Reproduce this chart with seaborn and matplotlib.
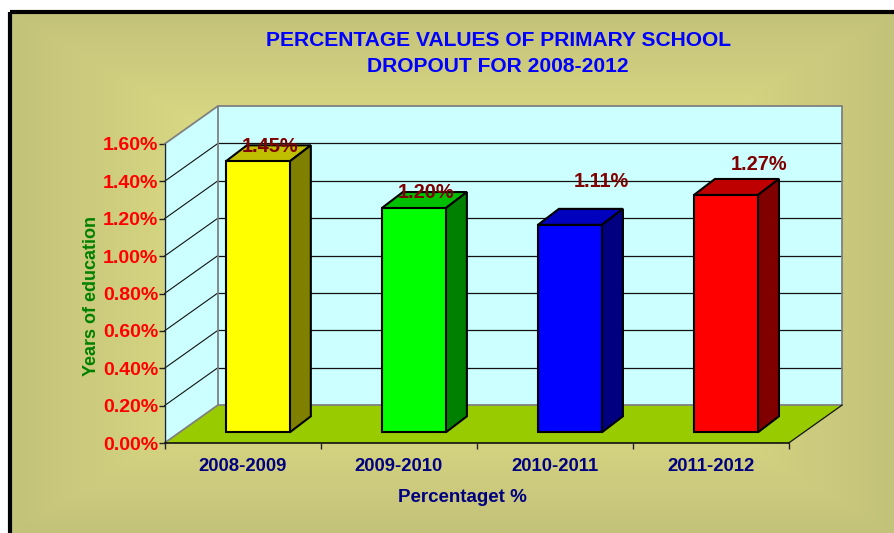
import numpy as np
import pandas as pd
import matplotlib
matplotlib.use("Agg")
import matplotlib.pyplot as plt
from matplotlib.patches import Polygon, Rectangle
from matplotlib.ticker import FuncFormatter
import seaborn as sns

# ---- data ----
years = ["2008-2009", "2009-2010", "2010-2011", "2011-2012"]
dropout = [1.45, 1.20, 1.11, 1.27]
value_labels = ["1.45%", "1.20%", "1.11%", "1.27%"]
y_ticks = [0.0, 0.2, 0.4, 0.6, 0.8, 1.0, 1.2, 1.4, 1.6]

# ---- styles ----
front_colors = ["#FFFF00", "#00FF00", "#0000FF", "#FF0000"]
top_colors = ["#BFBF00", "#00BF00", "#0000BF", "#BF0000"]
side_colors = ["#808000", "#008000", "#000080", "#800000"]
label_shift_px = [(12, 15), (12, 16), (31, 43), (33, 30)]

sns.set_style("white")
plt.rcParams["font.family"] = ["Liberation Sans", "DejaVu Sans"]

W, H = 894, 533
fig = plt.figure(figsize=(W / 100, H / 100), dpi=100, facecolor="white")

# background panel with rectangular gradient and black border
bg = fig.add_axes([0, 0, 1, 1], zorder=0)
bg.axis("off")
gx, gy = np.meshgrid(np.linspace(-1, 1, 300), np.linspace(-1, 1, 200))
t = np.clip((np.maximum(np.abs(gx), np.abs(gy)) - 0.55) / 0.45, 0, 1)
bright = np.array([218, 217, 131]) / 255
dark = np.array([195, 194, 122]) / 255
img = bright[None, None, :] * (1 - t[..., None]) + dark[None, None, :] * t[..., None]
bg.imshow(img, extent=[9, W, H, 12], aspect="auto", interpolation="bilinear", zorder=0)
bg.set_xlim(0, W)
bg.set_ylim(H, 0)
bg.add_patch(Rectangle((9.5, 11.5), W + 20, H + 20, fill=False, ec="black", lw=3, zorder=1))

# main plot: axes are the front plane of the 3-D box
px_left, px_right, px_zero, px_top = 164.5, 788.7, 443, 144
ax = fig.add_axes([px_left / W, 1 - px_zero / H, (px_right - px_left) / W, (px_zero - px_top) / H], zorder=1)
ax.patch.set_alpha(0)

df = pd.DataFrame({"year": years, "value": dropout})
sns.barplot(data=df, x="year", y="value", hue="year", palette=front_colors, legend=False, saturation=1,
            width=64 / 156, edgecolor="black", linewidth=1.5, ax=ax, zorder=4)
xmin, xmax, ymin, ymax = -0.5, 3.5, 0, 1.6
ax.set_xlim(xmin, xmax)
ax.set_ylim(ymin, ymax)

unit_x = (px_right - px_left) / 4
unit_y = (px_zero - px_top) / 1.6
DX, DY = 53.5 / unit_x, 38.0 / unit_y        # depth of the chart box
OFFX, OFFY = 15.3 / unit_x, 10.7 / unit_y    # bars stand inside the floor
BX, BY = 21.0 / unit_x, 16.0 / unit_y        # bar depth

# walls and floor
wall = "#CCFFFF"
grey = "#808080"
ax.add_patch(Polygon([(xmin + DX, ymin + DY), (xmax + DX, ymin + DY), (xmax + DX, ymax + DY), (xmin + DX, ymax + DY)],
                     fc=wall, ec="none", clip_on=False, zorder=0.5))
ax.add_patch(Polygon([(xmin, ymin), (xmin + DX, ymin + DY), (xmin + DX, ymax + DY), (xmin, ymax)],
                     fc=wall, ec="none", clip_on=False, zorder=0.5))
ax.add_patch(Polygon([(xmin, ymin), (xmax, ymin), (xmax + DX, ymin + DY), (xmin + DX, ymin + DY)],
                     fc="#99CC00", ec="none", clip_on=False, zorder=0.6))
for v in y_ticks[1:-1]:
    ax.plot([xmin + DX, xmax + DX], [v + DY, v + DY], color="#111111", lw=0.9, clip_on=False, zorder=1)
    ax.plot([xmin, xmin + DX], [v, v + DY], color="#111111", lw=0.8, clip_on=False, zorder=1)
frame_lw = 1.3
ax.plot([xmin + DX, xmax + DX], [ymax + DY, ymax + DY], color=grey, lw=frame_lw, clip_on=False, zorder=1.5)
ax.plot([xmin + DX, xmin + DX], [ymin + DY, ymax + DY], color=grey, lw=frame_lw, clip_on=False, zorder=1.5)
ax.plot([xmax + DX, xmax + DX], [ymin + DY, ymax + DY], color=grey, lw=frame_lw, clip_on=False, zorder=1.5)
ax.plot([xmin + DX, xmax + DX], [ymin + DY, ymin + DY], color=grey, lw=frame_lw, clip_on=False, zorder=1.5)
ax.plot([xmin, xmin + DX], [ymax, ymax + DY], color=grey, lw=frame_lw, clip_on=False, zorder=1.5)
ax.plot([xmin, xmin + DX], [ymin, ymin + DY], color=grey, lw=frame_lw, clip_on=False, zorder=1.5)
ax.plot([xmax, xmax + DX], [ymin, ymin + DY], color="#111111", lw=0.9, clip_on=False, zorder=1.5)

# shift bars to their place on the floor and add the top and side faces
bars = [b for c in ax.containers for b in c]
for i, p in enumerate(bars):
    val = dropout[i]
    p.set_x(p.get_x() + OFFX)
    p.set_y(OFFY)
    p.set_clip_on(False)
    x0, x1 = p.get_x(), p.get_x() + p.get_width()
    y0, y1 = OFFY, OFFY + val
    ax.add_patch(Polygon([(x0, y1), (x1, y1), (x1 + BX, y1 + BY), (x0 + BX, y1 + BY)], fc=top_colors[i],
                         ec="black", lw=1.5, joinstyle="miter", clip_on=False, zorder=3))
    ax.add_patch(Polygon([(x1, y0), (x1 + BX, y0 + BY), (x1 + BX, y1 + BY), (x1, y1)], fc=side_colors[i],
                         ec="black", lw=1.5, joinstyle="miter", clip_on=False, zorder=3))
    sx, sy = label_shift_px[i]
    ax.annotate(value_labels[i], xy=((x0 + x1) / 2, y1), xytext=(sx * 0.72, sy * 0.72), textcoords="offset points",
                ha="center", va="center", color="#800000", fontsize=14.4, fontweight="bold", zorder=6,
                annotation_clip=False)

# axes
for s in ["top", "right"]:
    ax.spines[s].set_visible(False)
ax.spines["left"].set_color("#222222")
ax.spines["bottom"].set_color("#111111")
ax.spines["left"].set_linewidth(1.0)
ax.spines["bottom"].set_linewidth(1.2)
ax.spines["left"].set_zorder(2)
ax.spines["bottom"].set_zorder(2)
ax.set_yticks(y_ticks)
ax.yaxis.set_major_formatter(FuncFormatter(lambda v, _: f"{v:.2f}%"))
ax.tick_params(axis="y", left=True, length=4, width=1.0, color="#222222", pad=0.5,
               labelsize=14, labelcolor="#FF0000")
for lab in ax.get_yticklabels():
    lab.set_fontweight("bold")
ax.set_xticks(range(len(years)), years)
ax.set_xticks([xmin, xmin + 1, xmin + 2, xmin + 3, xmax], minor=True)
ax.tick_params(axis="x", which="major", bottom=False, pad=7, labelsize=13.3, labelcolor="#000080")
ax.tick_params(axis="x", which="minor", bottom=True, length=4, width=1.0, color="#222222")
for lab in ax.get_xticklabels():
    lab.set_fontweight("bold")

ax.set_xlabel("Percentaget %", color="#000080", fontsize=13.5, fontweight="bold", va="center")
ax.xaxis.set_label_coords((462 - px_left) / (px_right - px_left), -(498 - px_zero) / (px_zero - px_top))
ax.set_ylabel("Years of education", color="#008000", fontsize=13, fontweight="bold", va="center")
ax.yaxis.set_label_coords((91 - px_left) / (px_right - px_left), (px_zero - 296) / (px_zero - px_top))

fig.text(498 / W, 1 - 53.5 / H, "PERCENTAGE VALUES OF PRIMARY SCHOOL\nDROPOUT FOR 2008-2012", ha="center", va="center",
         color="#0000FF", fontsize=15.1, fontweight="bold", linespacing=1.5, zorder=5)

fig.savefig("out.png", dpi=100)
